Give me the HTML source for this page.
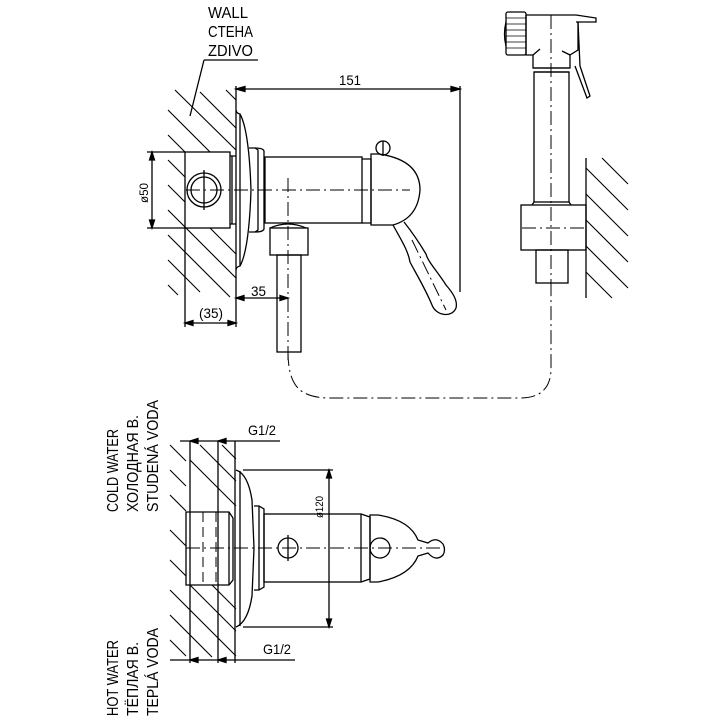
<!DOCTYPE html>
<html><head><meta charset="utf-8"><style>
html,body{margin:0;padding:0;background:#fff}
svg{display:block}
text{font-family:"Liberation Sans",sans-serif;fill:#000}
</style></head><body>
<svg width="720" height="720" viewBox="0 0 720 720" xmlns="http://www.w3.org/2000/svg">
<g fill="none" stroke="#000" stroke-width="1.3">
<line x1="204" y1="60" x2="258" y2="60"/>
<line x1="204" y1="60" x2="190" y2="116"/>
<g stroke-width="1.1">
<line x1="175" y1="90" x2="236" y2="150"/>
<line x1="168" y1="110" x2="210" y2="152"/>
<line x1="200" y1="92" x2="236" y2="128"/>
<line x1="226" y1="90" x2="236" y2="100"/>
<line x1="168" y1="135" x2="185" y2="152"/>
<line x1="168" y1="160" x2="185" y2="177"/>
<line x1="168" y1="185" x2="185" y2="202"/>
<line x1="168" y1="210" x2="236" y2="278"/>
<line x1="168" y1="235" x2="230" y2="297"/>
<line x1="168" y1="260" x2="200" y2="292"/>
<line x1="168" y1="285" x2="178" y2="295"/>
<line x1="210" y1="228" x2="236" y2="254"/>
</g>
<line x1="236" y1="86" x2="236" y2="327"/>
<line x1="236" y1="89" x2="460" y2="89"/>
<path d="M236 89 l9 -2.5 v5 z M460 89 l-9 -2.5 v5 z" fill="#000"/>
<line x1="460" y1="86" x2="460" y2="292"/>
<rect x="185" y="152" width="45" height="76"/>
<path d="M230 156 h6 M230 224 h6 M232 156 v68"/>
<line x1="147" y1="152" x2="185" y2="152"/><line x1="147" y1="228" x2="185" y2="228"/>
<line x1="152" y1="152" x2="152" y2="228"/>
<path d="M152 152 l-2.5 8 h5 z M152 228 l-2.5 -8 h5 z" fill="#000"/>
<circle cx="204" cy="190" r="17"/><circle cx="204" cy="190" r="13"/>
<line x1="204" y1="170" x2="204" y2="210"/>
<path d="M236 110 Q236 113 240 114 Q249 130 251 190 Q249 250 240 266 Q236 267 236 270"/>
<line x1="240" y1="114" x2="240" y2="266"/>
<path d="M249 148 h6 l3 2 v80 l-3 2 h-6"/>
<path d="M255 148 q8 0 9 3 v78 q-1 3 -9 3"/>
<rect x="265" y="157" width="97" height="66"/>
<path d="M362 159 h9 v64 h-9"/>
<path d="M371 154 h8 Q420 160 420 190 Q418 218 393 225 h-22 z"/>
<circle cx="383" cy="148" r="7"/><line x1="383" y1="141" x2="383" y2="156"/>
<path d="M393 225 C400 238 408 250 410 262 C414 270 425 288 432 305 C436 316 452 318 456 308 C458 300 452 292 446 285 C438 272 428 262 426 254 C420 244 412 232 404 222"/>
<path d="M270 228 Q288 220 306 228"/>
<rect x="270" y="228" width="38" height="27"/>
<rect x="277" y="255" width="24" height="97"/>
<line x1="236" y1="298" x2="288" y2="298"/>
<path d="M236 298 l8 -2.5 v5 z M288 298 l-8 -2.5 v5 z" fill="#000"/>
<line x1="185" y1="228" x2="185" y2="327"/>
<line x1="185" y1="323" x2="236" y2="323"/>
<path d="M185 323 l8 -2.5 v5 z M236 323 l-8 -2.5 v5 z" fill="#000"/>
<g stroke-dasharray="14 4 2 4" stroke-width="1">
<line x1="186" y1="190" x2="410" y2="190"/>
<line x1="288" y1="178" x2="288" y2="362"/>
<line x1="412" y1="240" x2="446" y2="310"/>
<path d="M288 352 Q288 380 300 390 Q310 398 330 398 L520 398 Q550 398 551 370 L551 290"/>
<line x1="551" y1="15" x2="551" y2="290"/>
<line x1="522" y1="228" x2="586" y2="228"/>
</g>
<!-- shower -->
<path d="M526 15 h50 l20 3 v4 h-20 M526 15 v40 h7"/>
<path d="M533 55 v13 h37 v-13 l8 -5 v-28"/>
<path d="M533 55 l7 -6 M570 55 l-8 -4"/>
<rect x="506" y="12" width="20" height="43" rx="2"/>
<g stroke-width="0.8"><line x1="506" y1="18" x2="526" y2="18"/><line x1="506" y1="24" x2="526" y2="24"/><line x1="506" y1="30" x2="526" y2="30"/><line x1="506" y1="36" x2="526" y2="36"/><line x1="506" y1="42" x2="526" y2="42"/><line x1="506" y1="48" x2="526" y2="48"/></g>
<path d="M506 22 q-3 12 0 24"/>
<path d="M578 22 l2 44 l10 30 l-3 2 l-12 -32"/>
<path d="M533 68 h37 M534 72 h35"/>
<rect x="534" y="72" width="35" height="130"/>
<path d="M534 202 l-2 3 M569 202 l2 3"/>
<rect x="521" y="205" width="65" height="45"/>
<rect x="536" y="250" width="32" height="33"/>
<line x1="586" y1="158" x2="586" y2="298"/>
<g stroke-width="1.1">
<line x1="602" y1="158" x2="628" y2="184"/>
<line x1="586" y1="168" x2="628" y2="210"/>
<line x1="586" y1="194" x2="628" y2="236"/>
<line x1="586" y1="220" x2="628" y2="262"/>
<line x1="586" y1="246" x2="628" y2="288"/>
<line x1="586" y1="272" x2="612" y2="298"/>
</g>
<!-- bottom view -->
<g stroke-width="1.1">
<line x1="170" y1="445" x2="186" y2="461"/>
<line x1="170" y1="470" x2="186" y2="486"/>
<line x1="170" y1="495" x2="186" y2="511"/>
<line x1="200" y1="445" x2="236" y2="481"/>
<line x1="222" y1="445" x2="236" y2="459"/>
<line x1="190" y1="460" x2="236" y2="506"/>
<line x1="170" y1="530" x2="186" y2="546"/>
<line x1="170" y1="560" x2="186" y2="576"/>
<line x1="170" y1="590" x2="236" y2="656"/>
<line x1="170" y1="615" x2="212" y2="657"/>
<line x1="170" y1="640" x2="186" y2="656"/>
<line x1="190" y1="585" x2="236" y2="631"/>
<line x1="212" y1="585" x2="236" y2="609"/>
</g>
<line x1="190" y1="441" x2="190" y2="663"/>
<line x1="218" y1="441" x2="218" y2="663"/>
<line x1="235" y1="441" x2="235" y2="663"/>
<line x1="180" y1="441" x2="280" y2="441"/>
<path d="M190 441 l8 -2.5 v5 z M218 441 l8 -2.5 v5 z" fill="#000"/>
<line x1="170" y1="660" x2="295" y2="660"/>
<path d="M190 660 l8 -2.5 v5 z M218 660 l8 -2.5 v5 z" fill="#000"/>
<path d="M186 512 h43 l4 6 v62 l-4 5 h-43 z"/>
<line x1="229" y1="512" x2="229" y2="585"/>
<g stroke-dasharray="10 5" stroke-width="1"><line x1="203" y1="512" x2="203" y2="585"/><line x1="216" y1="512" x2="216" y2="585"/></g>
<path d="M236 470 Q248 474 252 500 L254 548 L252 596 Q248 622 236 627"/>
<line x1="240" y1="471" x2="240" y2="626"/>
<path d="M254 506 h5 l5 3 v78 l-5 3 h-5"/>
<line x1="259" y1="506" x2="259" y2="590"/>
<rect x="264" y="514" width="97" height="68"/>
<path d="M361 514 l9 3 v62 l-9 3"/>
<path d="M370 515 h8 Q410 520 418 540 L428 543 Q436 536 443 544 Q446 550 443 555 Q436 562 428 553 L418 556 Q410 576 378 582 h-8 z"/>
<circle cx="380" cy="548" r="10"/>
<circle cx="288" cy="548" r="10"/>
<line x1="288" y1="535" x2="288" y2="561"/>
<g stroke-dasharray="14 4 2 4" stroke-width="1"><line x1="186" y1="548" x2="445" y2="548"/></g>
<line x1="243" y1="470" x2="333" y2="470"/>
<line x1="243" y1="627" x2="333" y2="627"/>
<line x1="329" y1="470" x2="329" y2="627"/>
<path d="M329 470 l-2.5 8 h5 z M329 627 l-2.5 -8 h5 z" fill="#000"/>
</g>
<g font-size="16" lengthAdjust="spacingAndGlyphs">
<text x="208" y="18" textLength="40" lengthAdjust="spacingAndGlyphs">WALL</text>
<text x="208" y="37" textLength="45" lengthAdjust="spacingAndGlyphs">CTEHA</text>
<text x="208" y="56" textLength="45" lengthAdjust="spacingAndGlyphs">ZDIVO</text>
<text x="339" y="85" font-size="14" textLength="22" lengthAdjust="spacingAndGlyphs">151</text>
<text x="251" y="296" font-size="14" textLength="15" lengthAdjust="spacingAndGlyphs">35</text>
<text x="199" y="318" font-size="14" textLength="24" lengthAdjust="spacingAndGlyphs">(35)</text>
<text transform="translate(148,203) rotate(-90)" font-size="12" textLength="20" lengthAdjust="spacingAndGlyphs">ø50</text>
<text x="248" y="435" font-size="14" textLength="28" lengthAdjust="spacingAndGlyphs">G1/2</text>
<text x="263" y="654" font-size="14" textLength="28" lengthAdjust="spacingAndGlyphs">G1/2</text>
<text transform="translate(323,518) rotate(-90)" font-size="11" textLength="22" lengthAdjust="spacingAndGlyphs">ø120</text>
<text transform="translate(118,512) rotate(-90)" textLength="83" lengthAdjust="spacingAndGlyphs">COLD WATER</text>
<text transform="translate(138,512) rotate(-90)" textLength="97" lengthAdjust="spacingAndGlyphs">ХОЛОДНАЯ В.</text>
<text transform="translate(158,512) rotate(-90)" textLength="112" lengthAdjust="spacingAndGlyphs">STUDENÁ VODA</text>
<text transform="translate(118,716) rotate(-90)" textLength="76" lengthAdjust="spacingAndGlyphs">HOT WATER</text>
<text transform="translate(138,716) rotate(-90)" textLength="74" lengthAdjust="spacingAndGlyphs">ТЁПЛАЯ В.</text>
<text transform="translate(158,716) rotate(-90)" textLength="88" lengthAdjust="spacingAndGlyphs">TEPLÁ VODA</text>
</g>
</svg>
</body></html>
